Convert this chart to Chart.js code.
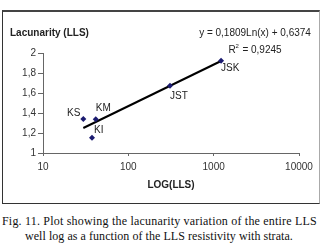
<!DOCTYPE html>
<html>
<head>
<meta charset="utf-8">
<script src="https://cdn.jsdelivr.net/npm/chart.js@4"></script>
<style>
  html, body { margin: 0; padding: 0; background: #fff; }
  body { width: 326px; height: 248px; position: relative; overflow: hidden; }
  #box { position: absolute; left: 2px; top: 10px; width: 316px; height: 191px;
         border: 1px solid #333; border-top: 2px solid #444; border-right-color: #aaa; }
  #wrap { position: absolute; left: 0; top: 0; width: 326px; height: 205px; }
  #cap { position: absolute; left: 0; top: 214px; width: 326px;
         font-family: 'Liberation Serif', 'Times New Roman', serif; font-size: 12px;
         line-height: 15px; color: #111; }
  #cap div { white-space: nowrap; }
  #l1 { padding-left: 2px; letter-spacing: 0.2px; }
  #l2 { padding-left: 25px; letter-spacing: 0.05px; }
</style>
</head>
<body>
<div id="box"></div>
<div id="wrap"><canvas id="c" width="326" height="205"></canvas></div>
<div id="cap">
  <div id="l1">Fig. 11. Plot showing the lacunarity variation of the entire LLS</div>
  <div id="l2">well log as a function of the LLS resistivity with strata.</div>
</div>
<script>
// ---- data ----
const strata      = ['KS', 'KM', 'KI', 'JST', 'JSK'];
const llsValues   = [29.7, 41.5, 37.5, 308, 1221];
const lacunarity  = [1.34, 1.337, 1.153, 1.673, 1.923];
const trendX      = [29.7, 1221];
const trendY      = [1.25, 1.92];
const xTicks      = [10, 100, 1000, 10000];
const yTicks      = [1, 1.2, 1.4, 1.6, 1.8, 2];
const equationTxt = 'y = 0,1809Ln(x) + 0,6374';
const r2Txt       = '= 0,9245';
const yTitle      = 'Lacunarity (LLS)';
const xTitle      = 'LOG(LLS)';

const FONT = "'Liberation Sans Narrow', 'Liberation Sans', Arial, sans-serif";
const labelOffsets = {
  KS:  { dx: -3, dy: -6, align: 'right' },
  KM:  { dx: 0,  dy: -11, align: 'left' },
  KI:  { dx: 2,  dy: -7, align: 'left' },
  JST: { dx: 0,  dy: 11, align: 'left' },
  JSK: { dx: 0,  dy: 8,  align: 'left' }
};

const annot = {
  id: 'annot',
  afterDatasetsDraw(chart) {
    const ctx = chart.ctx;
    const xs = chart.scales.x, ys = chart.scales.y;
    ctx.save();
    ctx.fillStyle = '#222';
    ctx.textBaseline = 'middle';
    ctx.font = '10px ' + FONT;
    strata.forEach((s, i) => {
      const o = labelOffsets[s];
      const px = xs.getPixelForValue(llsValues[i]);
      const py = ys.getPixelForValue(lacunarity[i]);
      ctx.textAlign = o.align;
      ctx.fillText(s, px + o.dx, py + o.dy);
    });
    // equation
    ctx.textAlign = 'center';
    ctx.fillText(equationTxt, 255, 33);
    ctx.textAlign = 'left';
    const rw = ctx.measureText('R').width;
    const tw = ctx.measureText(' ' + r2Txt).width;
    const x0 = 255 - (rw + 4 + tw) / 2;
    ctx.fillText('R', x0, 50);
    ctx.font = '6px ' + FONT;
    ctx.fillText('2', x0 + rw, 46);
    ctx.font = '10px ' + FONT;
    ctx.fillText(' ' + r2Txt, x0 + rw + 4, 50);
    // titles
    ctx.font = 'bold 10px ' + FONT;
    ctx.textAlign = 'left';
    ctx.fillText(yTitle, 10, 33);
    ctx.textAlign = 'center';
    ctx.fillText(xTitle, (chart.chartArea.left + chart.chartArea.right) / 2, 185);
    ctx.restore();
  }
};

new Chart(document.getElementById('c'), {
  type: 'scatter',
  data: {
    datasets: [
      {
        label: 'points',
        data: llsValues.map((v, i) => ({ x: v, y: lacunarity[i] })),
        pointStyle: 'rectRot',
        pointRadius: 3,
        backgroundColor: '#1b1b70',
        borderColor: '#1b1b70',
        borderWidth: 0,
        order: 0
      },
      {
        label: 'trend',
        data: trendX.map((v, i) => ({ x: v, y: trendY[i] })),
        showLine: true,
        pointRadius: 0,
        borderColor: '#000',
        borderWidth: 2,
        order: 1
      }
    ]
  },
  options: {
    responsive: false,
    animation: false,
    events: [],
    layout: { padding: { top: 53, right: 27, bottom: 0, left: 0 } },
    plugins: { legend: { display: false }, tooltip: { enabled: false }, title: { display: false } },
    scales: {
      x: {
        type: 'logarithmic',
        min: 10, max: 10000,
        afterFit(s) { s.height = 52; },
        afterBuildTicks(s) { s.ticks = xTicks.map(v => ({ value: v })); },
        grid: { display: true, drawOnChartArea: false, drawTicks: true, tickLength: 3, color: '#666' },
        border: { display: true, color: '#666', width: 1 },
        ticks: {
          padding: 5, color: '#333', maxRotation: 0, autoSkip: false,
          font: { family: FONT, size: 10 },
          callback: v => String(v)
        }
      },
      y: {
        min: 1, max: 2,
        afterFit(s) { s.width = 43; },
        afterBuildTicks(s) { s.ticks = yTicks.map(v => ({ value: v })); },
        grid: { display: true, drawOnChartArea: false, drawTicks: true, tickLength: 5, color: '#666' },
        border: { display: true, color: '#666', width: 1 },
        ticks: {
          padding: 2, color: '#333',
          font: { family: FONT, size: 10 },
          callback: v => (Math.abs(v - Math.round(v)) < 1e-9 ? String(Math.round(v)) : v.toFixed(1).replace('.', ','))
        }
      }
    }
  },
  plugins: [annot]
});
</script>
</body>
</html>
